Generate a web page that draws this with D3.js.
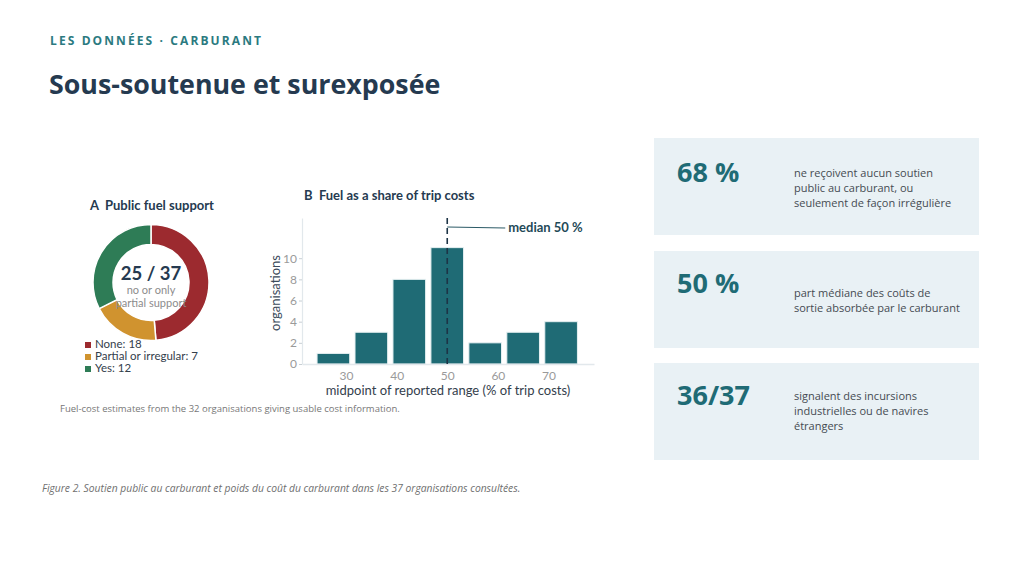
<!DOCTYPE html>
<html>
<head>
<meta charset="utf-8">
<script src="https://cdn.jsdelivr.net/npm/d3@7"></script>
<style>
  html, body { margin: 0; padding: 0; background: #fff; }
  svg { display: block; }
  text { white-space: pre; }
</style>
</head>
<body>
<svg id="slide" width="1024" height="569"></svg>
<script>
// panel A: public fuel support (37 organisations)
const supportCats = ['None', 'Partial or irregular', 'Yes']
const supportCounts = [18, 7, 12]
const supportColors = ['#9c2a2f', '#d0932f', '#2e7c56']

// panel B: fuel share of trip costs, histogram of range midpoints (32 organisations)
const binMids = [27.5, 35, 42.5, 50, 57.5, 65, 72.5]
const binCounts = [1, 3, 8, 11, 2, 3, 4]
const binWidth = 7.5
const xTicks = [30, 40, 50, 60, 70]
const yTicks = [0, 2, 4, 6, 8, 10]
const medianShare = 50

// key figures on the right
const statValues = ['68 %', '50 %', '36/37']
const statTexts = [
  ['ne reçoivent aucun soutien', 'public au carburant, ou', 'seulement de façon irrégulière'],
  ['part médiane des coûts de', 'sortie absorbée par le carburant'],
  ['signalent des incursions', 'industrielles ou de navires', 'étrangers']
]

const svg = d3.select('#slide')
const ink = '#253a50'
const teal = '#1f6b75'
const chartFont = 'Lato, "Open Sans", sans-serif'
const slideFont = '"Open Sans", "Noto Sans", sans-serif'

svg.append('rect').attr('width', 1024).attr('height', 569).attr('fill', '#fff')

// header
svg.append('text')
    .attr('x', 50).attr('y', 45)
    .style('font-family', slideFont).style('font-size', '12px').style('font-weight', 700)
    .style('letter-spacing', '2.1px').attr('fill', '#2b7a80')
    .text('LES DONNÉES · CARBURANT')
svg.append('text')
    .attr('x', 49).attr('y', 94)
    .style('font-family', slideFont).style('font-size', '26.8px').style('font-weight', 700)
    .attr('fill', ink)
    .text('Sous-soutenue et surexposée')

// ---- panel A: donut ----
const cx = 151, cy = 282.5
const pie = d3.pie().sort(null).value(d => d)
const arc = d3.arc().innerRadius(38).outerRadius(58)
const donut = svg.append('g').attr('transform', `translate(${cx},${cy})`)
donut.selectAll('path')
    .data(pie(supportCounts))
    .enter()
    .append('path')
    .attr('d', arc)
    .attr('fill', (d, i) => supportColors[i])
    .attr('stroke', '#fff')
    .attr('stroke-width', 1.5)

svg.append('text')
    .attr('x', 152).attr('y', 210).attr('text-anchor', 'middle')
    .style('font-family', chartFont).style('font-size', '13px').style('font-weight', 700)
    .attr('fill', ink)
    .text('A\u00a0\u00a0Public fuel support')

const notSupported = supportCounts[0] + supportCounts[1]
const total = d3.sum(supportCounts)
donut.append('text')
    .attr('y', -3).attr('text-anchor', 'middle')
    .style('font-family', chartFont).style('font-size', '18.5px').style('font-weight', 700)
    .attr('fill', ink)
    .text(`${notSupported} / ${total}`)
donut.selectAll('.sub')
    .data(['no or only', 'partial support'])
    .enter()
    .append('text')
    .attr('class', 'sub')
    .attr('y', (d, i) => 11.5 + i * 12.5)
    .attr('text-anchor', 'middle')
    .style('font-family', chartFont).style('font-size', '11px')
    .attr('fill', '#8c8c8c')
    .text(d => d)

const legend = svg.append('g').attr('transform', 'translate(85,348)')
const rows = legend.selectAll('g')
    .data(supportCats)
    .enter()
    .append('g')
    .attr('transform', (d, i) => `translate(0,${i * 12})`)
rows.append('rect')
    .attr('x', 0).attr('y', -6).attr('width', 6).attr('height', 6)
    .attr('fill', (d, i) => supportColors[i])
rows.append('text')
    .attr('x', 10).attr('y', 0)
    .style('font-family', chartFont).style('font-size', '11.5px')
    .attr('fill', '#34404c')
    .text((d, i) => `${d}: ${supportCounts[i]}`)

// ---- panel B: histogram ----
const x = d3.scaleLinear().domain([21.3, 79]).range([302, 594])
const y = d3.scaleLinear().domain([0, 13.8]).range([364, 218])

svg.append('text')
    .attr('x', 304).attr('y', 200)
    .style('font-family', chartFont).style('font-size', '13px').style('font-weight', 700)
    .attr('fill', ink)
    .text('B\u00a0\u00a0Fuel as a share of trip costs')

const g = svg.append('g')
g.selectAll('.bar')
    .data(binMids)
    .enter()
    .append('rect')
    .attr('class', 'bar')
    .attr('x', d => x(d - binWidth * 0.43))
    .attr('width', d => x(d + binWidth * 0.43) - x(d - binWidth * 0.43))
    .attr('y', (d, i) => y(binCounts[i]))
    .attr('height', (d, i) => y(0) - y(binCounts[i]))
    .attr('fill', teal)
    .attr('stroke', '#e6f0f2')
    .attr('stroke-width', 1)

const yAxis = g.append('g')
    .attr('transform', `translate(${x.range()[0]},0)`)
    .call(d3.axisLeft(y).tickValues(yTicks).tickSize(3).tickSizeOuter(0))
yAxis.select('.domain').attr('stroke', '#e2e8ec').attr('stroke-width', 1.2)
yAxis.selectAll('.tick line').attr('stroke', '#c8cfd4')
yAxis.selectAll('.tick text')
    .attr('x', -5)
    .style('font-family', chartFont).style('font-size', '12px').attr('fill', '#9a9a9a')

const xAxis = g.append('g')
    .attr('transform', `translate(0,${y(0)})`)
    .call(d3.axisBottom(x).tickValues(xTicks).tickSize(0).tickSizeOuter(0).tickPadding(7))
xAxis.select('.domain').attr('stroke', '#e2e8ec').attr('stroke-width', 1.5)
xAxis.selectAll('.tick text')
    .style('font-family', chartFont).style('font-size', '12px').attr('fill', '#9a9a9a')

g.append('text')
    .attr('transform', `translate(280,${(y(0) + y(13.8)) / 2 + 2}) rotate(-90)`)
    .attr('text-anchor', 'middle')
    .style('font-family', chartFont).style('font-size', '13px')
    .attr('fill', '#3b4a5a')
    .text('organisations')
g.append('text')
    .attr('x', 448).attr('y', 395).attr('text-anchor', 'middle')
    .style('font-family', chartFont).style('font-size', '13px')
    .attr('fill', '#34404c')
    .text('midpoint of reported range (% of trip costs)')

// median marker
g.append('line')
    .attr('x1', x(medianShare)).attr('x2', x(medianShare))
    .attr('y1', y(13.8)).attr('y2', y(0))
    .attr('stroke', '#1d3446').attr('stroke-width', 1.6)
    .attr('stroke-dasharray', '6,4')
g.append('path')
    .attr('d', `M${x(medianShare)},${y(13.8) + 9}L${x(medianShare) + 58},${y(13.8) + 10}`)
    .attr('fill', 'none').attr('stroke', '#2b5a66').attr('stroke-width', 1)
g.append('text')
    .attr('x', x(medianShare) + 61).attr('y', y(13.8) + 14)
    .style('font-family', chartFont).style('font-size', '13px').style('font-weight', 700)
    .attr('fill', '#1f4a58')
    .text(`median ${medianShare} %`)

svg.append('text')
    .attr('x', 60).attr('y', 412)
    .style('font-family', slideFont).style('font-size', '9.5px')
    .attr('fill', '#777')
    .text('Fuel-cost estimates from the 32 organisations giving usable cost information.')

svg.append('text')
    .attr('x', 42).attr('y', 492)
    .style('font-family', slideFont).style('font-size', '10.3px').style('font-style', 'italic')
    .attr('fill', '#6f6f6f')
    .text('Figure 2. Soutien public au carburant et poids du coût du carburant dans les 37 organisations consultées.')

// ---- key figures ----
const boxTops = [138, 251, 363]
const boxH = 97
const valueBase = [182, 293, 405]
const textBase = [177, 297, 400]
const cards = svg.selectAll('.card')
    .data(statValues)
    .enter()
    .append('g')
    .attr('class', 'card')
cards.append('rect')
    .attr('x', 654).attr('y', (d, i) => boxTops[i])
    .attr('width', 325).attr('height', boxH)
    .attr('fill', '#e9f1f5')
cards.append('text')
    .attr('x', 677).attr('y', (d, i) => valueBase[i])
    .style('font-family', slideFont).style('font-size', '27px').style('font-weight', 700)
    .attr('fill', teal)
    .text(d => d)
cards.each(function(d, i) {
    d3.select(this).selectAll('.line')
        .data(statTexts[i])
        .enter()
        .append('text')
        .attr('class', 'line')
        .attr('x', 794)
        .attr('y', (t, j) => textBase[i] + j * 15)
        .style('font-family', slideFont).style('font-size', '11px')
        .attr('fill', '#454b52')
        .text(t => t)
})
</script>
</body>
</html>
